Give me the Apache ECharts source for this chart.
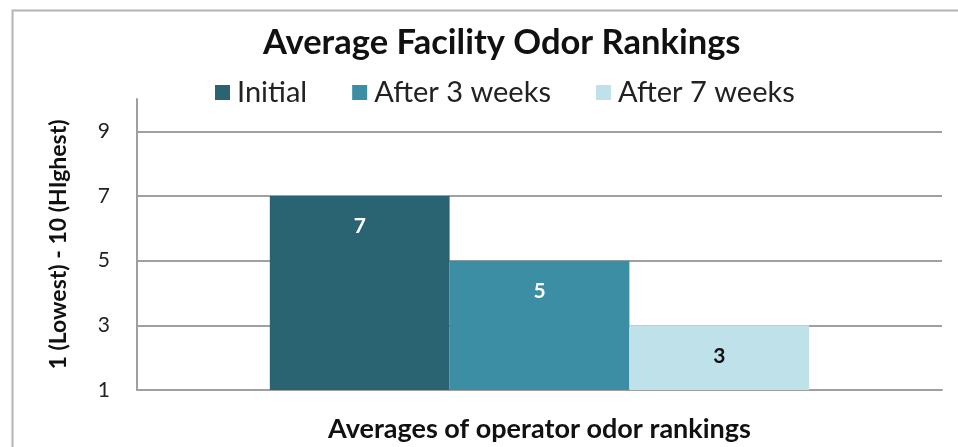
<!DOCTYPE html>
<html>
<head>
<meta charset="utf-8">
<script src="https://cdn.jsdelivr.net/npm/echarts@6/dist/echarts.min.js"></script>
<title>Average Facility Odor Rankings</title>
</head>
<body style="margin:0">
<div id="container" style="width:958px;height:447px"></div>
<script type="text/javascript">
let categories = ['Averages of operator odor rankings'];
let seriesNames = ['Initial', 'After 3 weeks', 'After 7 weeks'];
let seriesValues = [7, 5, 3];
let seriesColors = ['#2a6472', '#3b8ea4', '#bfe1e9'];
let labelColors = ['#ffffff', '#ffffff', '#111111'];
let yTicks = [1, 3, 5, 7, 9];

let series = seriesNames.map(function (name, i) {
    return {
        name: name,
        type: 'bar',
        zlevel: 1,
        data: [seriesValues[i]],
        barGap: '0%',
        barCategoryGap: '33%',
        itemStyle: { color: seriesColors[i] },
        label: {
            show: true,
            position: 'insideTop',
            distance: 20,
            color: labelColors[i],
            fontFamily: 'Lato',
            fontWeight: 'bold',
            fontSize: 21
        }
    };
});

// gridlines at the labelled ticks only (no line at the axis max of 10), kept under the bars
let gridLines = {
    type: 'line',
    data: [],
    zlevel: 0,
    silent: true,
    markLine: {
        silent: true,
        symbol: 'none',
        label: { show: false },
        lineStyle: { color: '#a0a0a0', width: 2, type: 'solid' },
        data: yTicks.slice(1).map(function (v) { return { yAxis: v }; })
    }
};

let chart = echarts.init(document.getElementById('container'));
chart.setOption({
    animation: false,
    textStyle: { fontFamily: 'Lato' },
    graphic: [{
        type: 'rect',
        left: 10, top: 8,
        shape: { width: 960, height: 460 },
        style: { fill: 'none', stroke: '#b4b4b4', lineWidth: 2 },
        silent: true
    }],
    title: {
        text: 'Average Facility Odor Rankings',
        left: 258,
        top: 20,
        textStyle: { fontFamily: 'Lato', fontWeight: 'bold', fontSize: 34.5, color: '#111' }
    },
    legend: {
        data: seriesNames,
        top: 73,
        left: 210,
        itemWidth: 15,
        itemHeight: 15,
        itemGap: 45,
        icon: 'rect',
        textStyle: { fontFamily: 'Lato', fontSize: 29, color: '#222', padding: [0, 0, 0, 2] }
    },
    grid: { left: 137, right: 16, top: 99, bottom: 57, outerBoundsMode: 'none' },
    xAxis: {
        type: 'category',
        data: categories,
        name: categories[0],
        nameLocation: 'middle',
        nameGap: 26,
        nameTextStyle: { fontFamily: 'Lato', fontWeight: 'bold', fontSize: 27, color: '#111' },
        axisLine: { lineStyle: { color: '#a0a0a0', width: 2 } },
        axisTick: { show: false },
        axisLabel: { show: false }
    },
    yAxis: {
        type: 'value',
        min: 1,
        max: 10,
        interval: 2,
        name: '1 (Lowest) - 10 (HIghest)',
        nameLocation: 'middle',
        nameGap: 67,
        nameTextStyle: { fontFamily: 'Lato', fontWeight: 'bold', fontSize: 23, color: '#111' },
        axisLine: { show: true, lineStyle: { color: '#a0a0a0', width: 2 } },
        axisTick: { show: false },
        axisLabel: {
            showMaxLabel: false,
            margin: 27,
            fontFamily: 'Lato',
            fontSize: 21,
            color: '#222'
        },
        splitLine: { show: false }
    },
    series: series.concat([gridLines])
});
</script>
</body>
</html>
